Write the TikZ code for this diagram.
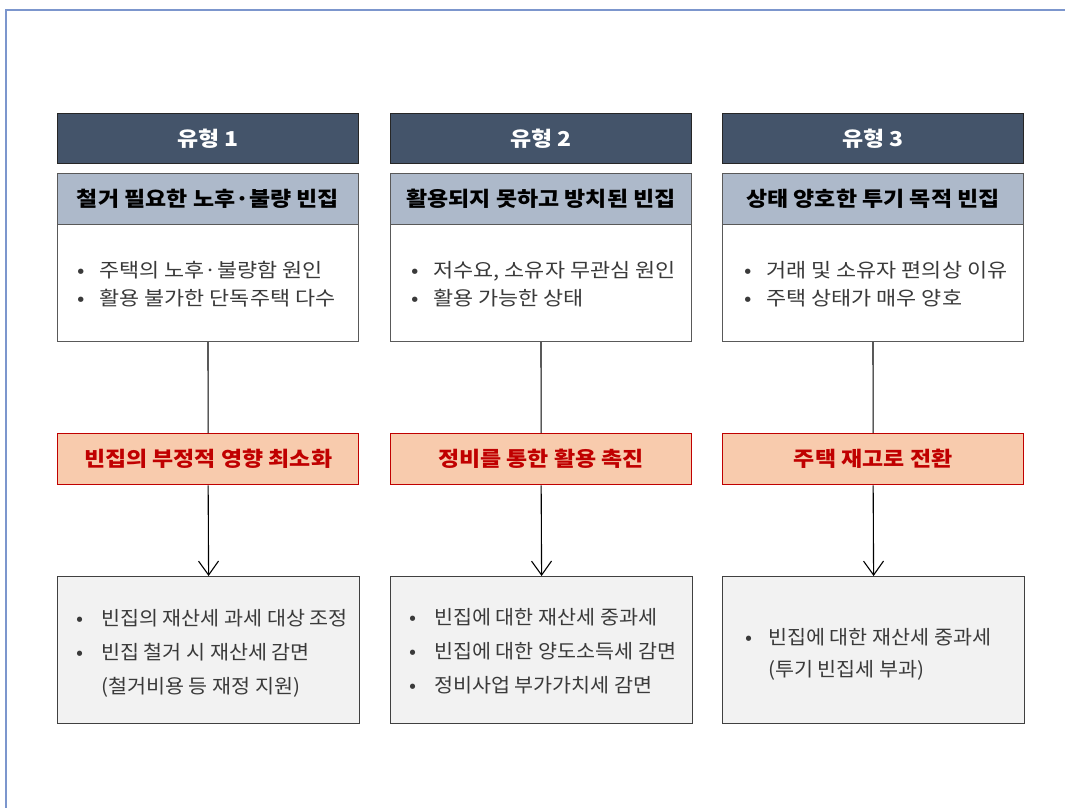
\documentclass[tikz,border=0pt]{standalone}
\usepackage{fontspec}
\setmainfont[FakeStretch=1.12]{Noto Sans CJK KR}
\newfontfamily\taxfam[FakeStretch=1.06]{Noto Sans CJK KR}
\usetikzlibrary{arrows.meta}
\definecolor{framecol}{RGB}{124,150,205}
\definecolor{titlecol}{HTML}{44546A}
\definecolor{subcol}{HTML}{ADB9CA}
\definecolor{redfill}{HTML}{F8CBAD}
\definecolor{redline}{HTML}{C00000}
\definecolor{grayfill}{HTML}{F2F2F2}
\definecolor{txt}{HTML}{3A3A3A}
\tikzset{
  titlebox/.style={draw=black!85, line width=1.2pt, fill=titlecol, minimum width=301pt, minimum height=50pt, anchor=north west, text=white, font=\fontsize{20.5}{24}\selectfont\bfseries, inner sep=0pt},
  subbox/.style={draw=black!65, line width=1pt, fill=subcol, minimum width=301pt, minimum height=51pt, anchor=north west, text=black, font=\fontsize{20.5}{24}\selectfont\bfseries, inner sep=0pt},
  bodybox/.style={draw=black!65, line width=1pt, fill=white, minimum width=301pt, minimum height=117pt, anchor=north west, inner sep=0pt},
  goalbox/.style={draw=redline, line width=1.3pt, fill=redfill, minimum width=301pt, minimum height=51pt, anchor=north west, text=redline, font=\fontsize{20.5}{24}\selectfont\bfseries, inner sep=0pt},
  taxbox/.style={draw=black!75, line width=1.2pt, fill=grayfill, minimum width=302pt, minimum height=147pt, anchor=north west, inner sep=0pt},
  btext/.style={anchor=west, inner sep=0pt, text=txt, align=left},
  link/.style={draw=black, line width=1.1pt},
  arrowlink/.style={link, -{Straight Barb[length=14pt, width=20pt, line width=1.1pt]}},
}
\newcommand{\bodyfont}{\fontsize{19.5}{28}\selectfont}
\newcommand{\taxfont}{\taxfam\fontsize{19.5}{34}\selectfont}
\begin{document}
\begin{tikzpicture}[x=1pt, y=-1pt]
\useasboundingbox (0,0) rectangle (1065,808);
\fill[white] (0,0) rectangle (1065,808);
\draw[framecol, line width=1.6pt] (5.8,808) -- (5.8,10.3) -- (1065,10.3);

% column 1
\node[titlebox] (t1) at (57,113) {유형 1};
\node[subbox] (s1) at (57,173) {철거 필요한 노후·불량 빈집};
\node[bodybox] (b1) at (57,224) {};
\node[goalbox] (g1) at (57,433) {빈집의 부정적 영향 최소화};
\node[taxbox] (x1) at (57,576) {};
\node[btext, font=\bodyfont] (bt1) at (77,286) {\begin{tabular}{@{}l@{\hspace{15pt}}l@{}}•&주택의 노후·불량함 원인\\•&활용 불가한 단독주택 다수\end{tabular}};
\node[btext, font=\taxfont] (xt1) at (76,653) {\begin{tabular}{@{}l@{\hspace{18pt}}l@{}}•&빈집의 재산세 과세 대상 조정\\•&빈집 철거 시 재산세 감면\\&(철거비용 등 재정 지원)\end{tabular}};

% column 2
\node[titlebox] (t2) at (390,113) {유형 2};
\node[subbox] (s2) at (390,173) {활용되지 못하고 방치된 빈집};
\node[bodybox] (b2) at (390,224) {};
\node[goalbox] (g2) at (390,433) {정비를 통한 활용 촉진};
\node[taxbox] (x2) at (390,576) {};
\node[btext, font=\bodyfont] (bt2) at (411,286) {\begin{tabular}{@{}l@{\hspace{15pt}}l@{}}•&저수요, 소유자 무관심 원인\\•&활용 가능한 상태\end{tabular}};
\node[btext, font=\taxfont] (xt2) at (409,652) {\begin{tabular}{@{}l@{\hspace{18pt}}l@{}}•&빈집에 대한 재산세 중과세\\•&빈집에 대한 양도소득세 감면\\•&정비사업 부가가치세 감면\end{tabular}};

% column 3
\node[titlebox] (t3) at (722,113) {유형 3};
\node[subbox] (s3) at (722,173) {상태 양호한 투기 목적 빈집};
\node[bodybox] (b3) at (722,224) {};
\node[goalbox] (g3) at (722,433) {주택 재고로 전환};
\node[taxbox] (x3) at (722,576) {};
\node[btext, font=\bodyfont] (bt3) at (744,286) {\begin{tabular}{@{}l@{\hspace{15pt}}l@{}}•&거래 및 소유자 편의상 이유\\•&주택 상태가 매우 양호\end{tabular}};
\node[btext, font=\fontsize{19.5}{32}\selectfont\taxfam] (xt3) at (745,654) {\begin{tabular}{@{}l@{\hspace{16pt}}l@{}}•&빈집에 대한 재산세 중과세\\&(투기 빈집세 부과)\end{tabular}};

% connectors
\foreach \i in {1,2,3}{
  \draw[link] (b\i.south) -- (g\i.north);
  \draw[arrowlink] (g\i.south) -- (x\i.north);
}
\end{tikzpicture}
\end{document}
